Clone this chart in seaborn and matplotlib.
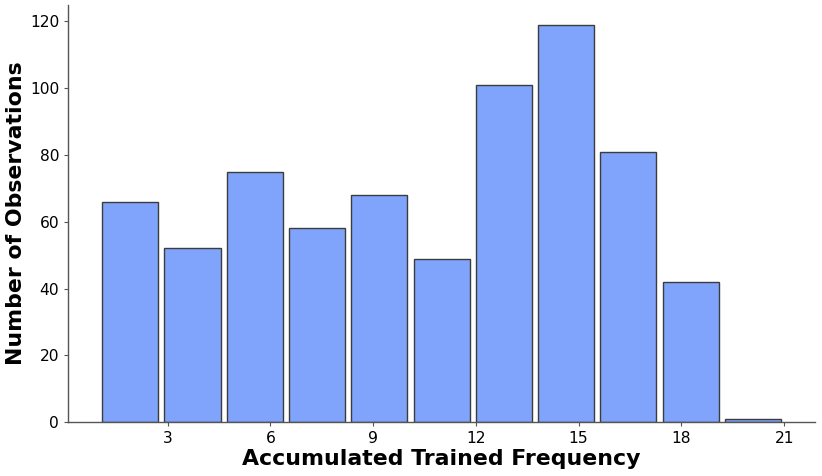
import numpy as np
import pandas as pd
import matplotlib
matplotlib.use("Agg")
import matplotlib.pyplot as plt
import seaborn as sns

# Histogram: 11 bins spanning 1..21
bin_lo = 1
bin_hi = 21
n_bins = 11
counts = [66, 52, 75, 58, 68, 49, 101, 119, 81, 42, 1]
xticks = [3, 6, 9, 12, 15, 18, 21]

edges = np.linspace(bin_lo, bin_hi, n_bins + 1)
centers = (edges[:-1] + edges[1:]) / 2
df = pd.DataFrame({"freq": centers, "n": counts})

sns.set_style("white")
plt.rcParams["font.family"] = ["DejaVu Sans"]

fig, ax = plt.subplots(figsize=(8.22, 4.76), dpi=100)
sns.histplot(data=df, x="freq", weights="n", bins=n_bins, binrange=(bin_lo, bin_hi),
             shrink=0.9, color="#80a4fb", alpha=1.0, edgecolor="#3c3c3c",
             linewidth=1.0, ax=ax)
sns.despine(ax=ax)
for s in ["left", "bottom"]:
    ax.spines[s].set_color("#555555")
    ax.spines[s].set_linewidth(1.0)
ax.set_xticks(xticks)
ax.tick_params(axis="both", labelsize=11.2, length=3, color="#555555",
               labelcolor="black", left=True, bottom=True)
ax.set_xlabel("Accumulated Trained Frequency", fontsize=15.8, fontweight="bold",
              labelpad=2, color="black")
ax.set_ylabel("Number of Observations", fontsize=15.8, fontweight="bold",
              labelpad=2.5, color="black")
fig.subplots_adjust(left=0.083, right=0.9915, top=0.99, bottom=0.113)
fig.savefig("out.png", dpi=100)
